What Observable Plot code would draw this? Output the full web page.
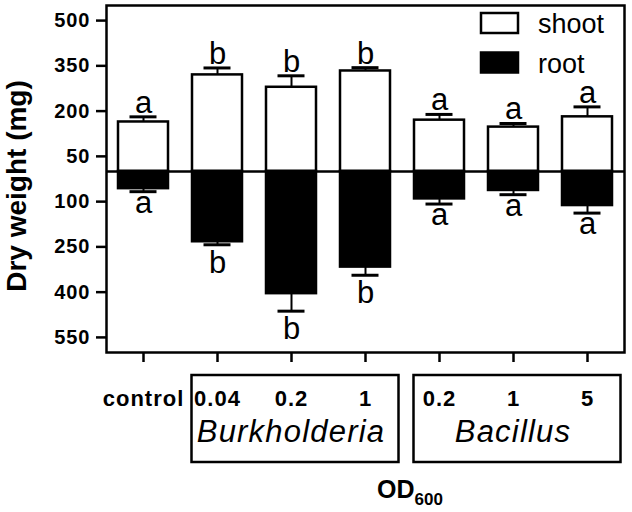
<!DOCTYPE html>
<html><head><meta charset="utf-8">
<script src="https://cdn.jsdelivr.net/npm/d3@7"></script>
<script src="https://cdn.jsdelivr.net/npm/@observablehq/plot@0.6"></script>
<style>
body{margin:0;background:#fff}
#chart svg{font-family:"Liberation Sans",Arial,sans-serif;}
g[aria-label="x-axis tick label"] text{letter-spacing:1px}
g[aria-label="y-axis tick label"] text{letter-spacing:1px}
g[aria-label="x-axis tick"], g[aria-label="y-axis tick"]{stroke-width:2.5px}
</style>
</head><body><div id="chart"></div>
<script>
const ids = ["control","B0.04","B0.2","B1","Ba0.2","Ba1","Ba5"];
const tickLabels = ["control","0.04","0.2","1","0.2","1","5"];
const shootMean = [164,320,279,333,170,147,181];
const shootErr = [17,23,38,11,19,12,33];
const rootMean = [57,233,405,317,91,63,113];
const rootErr = [10,10,58,27,17,14,25];
const shootLetters = ["a","b","b","b","a","a","a"];
const rootLetters = ["a","b","b","b","a","a","a"];
const groupNames = ["Burkholderia","Bacillus"];
const groupMembers = [["B0.04","B0.2","B1"],["Ba0.2","Ba1","Ba5"]];
const yTicks = [500,350,200,50,-100,-250,-400,-550];
const seriesNames = ["shoot","root"];
const yTitle = "Dry weight (mg)";

const rows = ids.map((id,i)=>({
  id, label: tickLabels[i],
  shoot: shootMean[i], shootTop: shootMean[i]+shootErr[i],
  root: -rootMean[i], rootBot: -(rootMean[i]+rootErr[i]),
  sL: shootLetters[i], rL: rootLetters[i]
}));
const lblMap = new Map(ids.map((d,i)=>[d,tickLabels[i]]));
const font = {fontFamily:'"Liberation Sans",Arial,sans-serif'};

const plot = Plot.plot({
  width: 632, height: 512,
  marginTop: 5, marginBottom: 160, marginLeft: 106, marginRight: 8,
  x: {domain: ids, paddingInner: 0.32, paddingOuter: 0.16, label: null},
  y: {domain: [-600, 550], label: null},
  marks: [
    Plot.ruleX(rows, {x:"id", y1:"shoot", y2:"shootTop", stroke:"black", strokeWidth:2}),
    Plot.tickY(rows, {x:"id", y:"shootTop", stroke:"black", strokeWidth:3, insetLeft:11.5, insetRight:11.5}),
    Plot.ruleX(rows, {x:"id", y1:"root", y2:"rootBot", stroke:"black", strokeWidth:2}),
    Plot.tickY(rows, {x:"id", y:"rootBot", stroke:"black", strokeWidth:3, insetLeft:11.5, insetRight:11.5}),
    Plot.barY(rows, {x:"id", y1:0, y2:"shoot", fill:"white", stroke:"black", strokeWidth:2.5}),
    Plot.barY(rows, {x:"id", y1:0, y2:"root", fill:"black", stroke:"black", strokeWidth:2.5}),
    Plot.text(rows, {x:"id", y:"shootTop", text:"sL", fontSize:31, lineAnchor:"bottom", dy:-4, fill:"black", ...font}),
    Plot.text(rows.filter(d=>d.rL==="a"), {x:"id", y:"rootBot", text:"rL", fontSize:31, lineAnchor:"bottom", dy:21, fill:"black", ...font}),
    Plot.text(rows.filter(d=>d.rL==="b"), {x:"id", y:"rootBot", text:"rL", fontSize:31, lineAnchor:"bottom", dy:28, fill:"black", ...font}),
    Plot.ruleY([0], {stroke:"black", strokeWidth:2.5}),
    Plot.axisY({ticks: yTicks, tickFormat: d=>Math.abs(d), tickSize:10, tickPadding:6, fontSize:20, fontWeight:"bold", label:null, ...font}),
    Plot.axisX({tickFormat: d=>lblMap.get(d), tickSize:10, tickPadding:28, fontSize:22, fontWeight:"bold", label:null, ...font}),
    Plot.frame({stroke:"black", strokeWidth:2.5})
  ]
});
document.getElementById("chart").append(plot);

const svg = d3.select(plot);
const xs = plot.scale("x");
const bw = xs.bandwidth;
const cx = id => xs.apply(id) + bw/2;

// group boxes and names
groupMembers.forEach((m,i)=>{
  const l = cx(m[0]) - 25.5, r = cx(m[m.length-1]) + 33.5;
  svg.append("rect").attr("x",l).attr("y",375).attr("width",r-l).attr("height",87)
    .attr("fill","none").attr("stroke","black").attr("stroke-width",2.5);
  svg.append("text").attr("x",cx(m[1])).attr("y",442).attr("text-anchor","middle")
    .attr("font-size",31).attr("font-style","italic").style("letter-spacing","1.2px")
    .attr("fill","black").text(groupNames[i]);
});

// OD600 label
const od = svg.append("text").attr("x",410).attr("y",498).attr("text-anchor","middle")
  .attr("font-weight","bold").attr("font-size",25).attr("fill","black");
od.append("tspan").text("OD");
od.append("tspan").attr("font-size",17).attr("dy",7).text("600");

// y title
svg.append("text").attr("transform","translate(26,186) rotate(-90)").attr("text-anchor","middle")
  .attr("font-weight","bold").attr("font-size",28).attr("fill","black").text(yTitle);

// legend
const legFill = ["white","black"];
seriesNames.forEach((s,i)=>{
  const y0 = 13 + i*39.5;
  svg.append("rect").attr("x",481).attr("y",y0).attr("width",37).attr("height",20)
    .attr("fill",legFill[i]).attr("stroke","black").attr("stroke-width",2.5);
  svg.append("text").attr("x",538).attr("y",y0+20).attr("text-anchor","start")
    .attr("font-size",27).attr("fill","black").text(s);
});
</script>
</body></html>
